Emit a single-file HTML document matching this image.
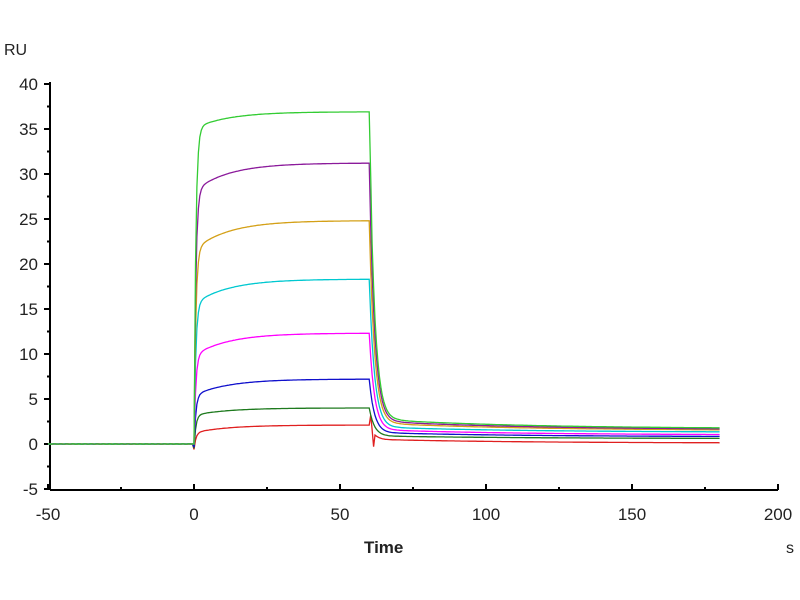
<!DOCTYPE html>
<html><head><style>body{margin:0;background:#fff}svg{display:block}text{font-family:"Liberation Sans",Arial,sans-serif;fill:#222}</style></head>
<body>
<svg id="s" width="800" height="600" xmlns="http://www.w3.org/2000/svg">
<text x="4" y="55" font-size="16">RU</text>
<line x1="50" y1="82" x2="50" y2="490" stroke="#000" stroke-width="2"/>
<line x1="50" y1="490" x2="778" y2="490" stroke="#000" stroke-width="2"/>
<g id="ax"></g>
<g id="cv" fill="none" stroke-width="1.3"></g>
<text x="364" y="553" font-size="17" font-weight="bold">Time</text>
<text x="786" y="553" font-size="16">s</text>
</svg>
<script>
const X=t=>194+t*2.92, Y=v=>444-v*9;
let ax=document.getElementById('ax'),h='';
for(let v=-5;v<=40;v+=2.5){let y=Y(v),maj=v%5===0;h+=`<line x1="${maj?44:47}" y1="${y}" x2="50" y2="${y}" stroke="#000" stroke-width="2"/>`;if(maj)h+=`<text x="38" y="${y+6}" font-size="17" text-anchor="end">${v}</text>`;}
for(let t=-50;t<=200;t+=25){let x=X(t),maj=t%50===0;h+=`<line x1="${x}" y1="490" x2="${x}" y2="${maj?484:487}" stroke="#000" stroke-width="2"/>`;if(maj)h+=`<text x="${x}" y="520" font-size="17" text-anchor="middle">${t}</text>`;}
ax.innerHTML=h;
const S=[["#e02020",2.1,0.45,0.1,0.6],["#1e7a1e",4.0,0.85,0.6,0.8],["#1010cc",7.2,1.2,0.8,0.75],["#ff00ff",12.3,1.5,1.0,0.8],["#00c8d0",18.3,1.8,1.3,0.85],["#d4a017",24.8,2.2,1.5,0.87],["#8b1a9b",31.2,2.4,1.6,0.9],["#33cc33",36.9,2.6,1.7,0.95]];
let g='';
S.forEach(([c,P,r0,r1,f],i)=>{let pts=[];
for(let t=-50;t<=180;t+=0.5){let v;
if(t<-1)v=0.02*Math.sin(t*3+i);
else if(t<0)v=0;
else if(t<=60){let a=(1-Math.exp(-t/0.6));v=P*(f*a+(1-f)*(1-Math.exp(-t/12)))/(f+(1-f)*(1-Math.exp(-5)));v-= (i<3?0.6*(1-i*0.2)*Math.exp(-t/0.8):0);}
else{let a=r0+(r1-r0)*(1-Math.exp(-(t-70)/50))*(t>70?1:0);v=a+(P-a)*Math.exp(-(t-60)/1.8);if(i==0&&t<62)v+=1.5*Math.sin((t-60)*3);if(i==7&&t<61)v+=1.2;}
pts.push(X(t).toFixed(1)+','+Y(v).toFixed(1));}
g+=`<polyline stroke="${c}" points="${pts.join(' ')}"/>`;});
document.getElementById('cv').innerHTML=g;
</script>
</body></html>
